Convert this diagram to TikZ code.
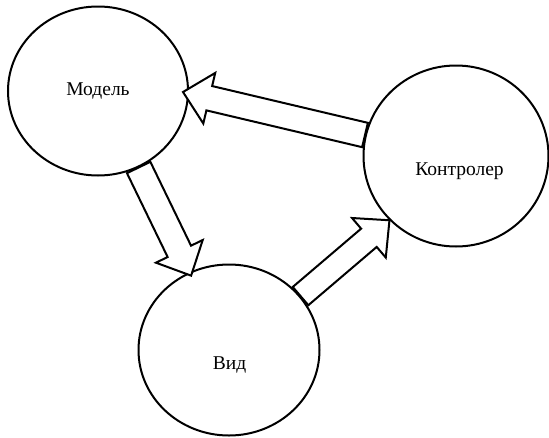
\documentclass[tikz,border=0pt]{standalone}
\usepackage{fontspec}
\setmainfont{Liberation Serif}
\usetikzlibrary{shapes.geometric,calc}

\begin{document}
\begin{tikzpicture}[x=1pt,y=-1pt,line width=2pt,font=\fontsize{19.5}{23}\selectfont,
  part/.style={draw,ellipse,inner sep=0pt},
  blockarrow/.style={draw,fill=white,line join=miter}]
\useasboundingbox (0,0) rectangle (549,437);

\node [part,minimum width=180pt,minimum height=169pt] (model) at (98,91) {};
\node [part,minimum width=185pt,minimum height=181pt] (ctrl) at (456,156) {};
\node [part,minimum width=181pt,minimum height=171pt] (view) at (229,350) {};

\node [anchor=base] (modeltext) at (98,95.7) {Модель};
\node [anchor=base] (ctrltext) at (459.5,175) {Контролер};
\node [anchor=base] (viewtext) at (229.5,369) {Вид};

% tails and tips
\coordinate (t1) at (ctrl.167);
\coordinate (h1) at ($(model.east)+(-6,1)$);
\coordinate (t2) at (model.298);
\coordinate (h2) at ($(view.117)!4pt!(view.center)$);
\coordinate (t3) at (view.37);
\coordinate (h3) at (ctrl.224);

% head bases
\coordinate (b1) at ($(h1)!27pt!(t1)$);
\coordinate (b2) at ($(h2)!27pt!(t2)$);
\coordinate (b3) at ($(h3)!27pt!(t3)$);

% controller -> model
\draw [blockarrow] ($(t1)!12.5pt!90:(h1)$) -- ($(b1)!12.5pt!90:(h1)$) -- ($(b1)!26pt!90:(h1)$) -- (h1)
  -- ($(b1)!26pt!-90:(h1)$) -- ($(b1)!12.5pt!-90:(h1)$) -- ($(t1)!12.5pt!-90:(h1)$) -- cycle;

% model -> view
\draw [blockarrow] ($(t2)!13pt!90:(h2)$) -- ($(b2)!13pt!90:(h2)$) -- ($(b2)!26pt!90:(h2)$) -- (h2)
  -- ($(b2)!26pt!-90:(h2)$) -- ($(b2)!13pt!-90:(h2)$) -- ($(t2)!13pt!-90:(h2)$) -- cycle;

% view -> controller
\draw [blockarrow] ($(t3)!12pt!90:(h3)$) -- ($(b3)!12pt!90:(h3)$) -- ($(b3)!26pt!90:(h3)$) -- (h3)
  -- ($(b3)!26pt!-90:(h3)$) -- ($(b3)!12pt!-90:(h3)$) -- ($(t3)!12pt!-90:(h3)$) -- cycle;
\end{tikzpicture}
\end{document}
